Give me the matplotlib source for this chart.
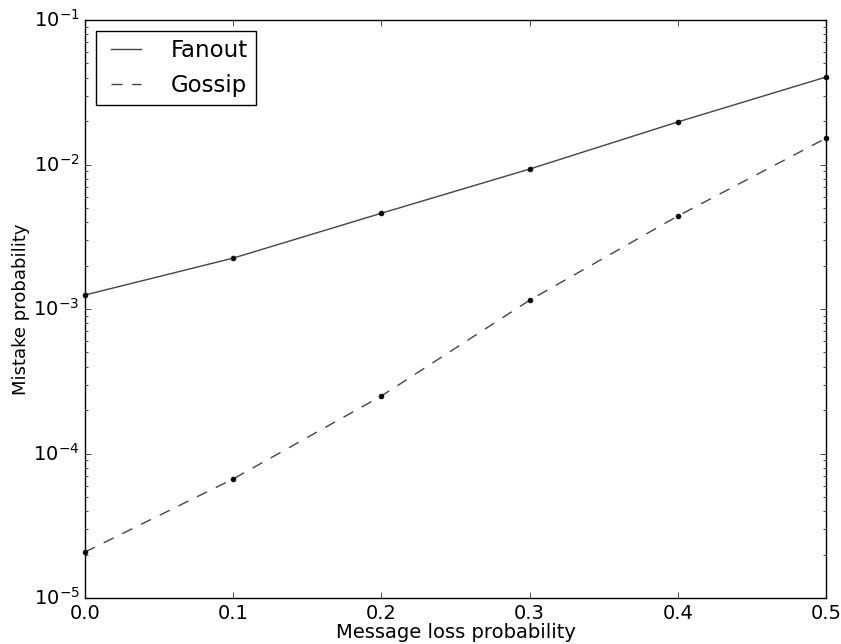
import matplotlib
matplotlib.use("Agg")
import matplotlib.pyplot as plt

plt.style.use('classic')

loss = [0.0, 0.1, 0.2, 0.3, 0.4, 0.5]
fanout = [1.25e-3, 2.25e-3, 4.6e-3, 9.3e-3, 1.97e-2, 4.03e-2]
gossip = [2.08e-5, 6.67e-5, 2.5e-4, 1.15e-3, 4.4e-3, 1.52e-2]

fig = plt.figure(figsize=(8.41, 6.44), dpi=100)
fig.patch.set_facecolor('white')
ax = fig.add_axes([85/841, 1 - 598/644, (826-85)/841, (598-20)/644])

ax.plot(loss, fanout, '-', color='#444444', lw=1.0, label='Fanout')
ax.plot(loss, gossip, '--', color='#444444', lw=1.0, dashes=(8, 7), label='Gossip')
ax.plot(loss, fanout, 'o', color='black', ms=3.5, mec='black', clip_on=False)
ax.plot(loss, gossip, 'o', color='black', ms=3.5, mec='black', clip_on=False)

ax.set_yscale('log')
ax.set_xlim(0, 0.5)
ax.set_ylim(1e-5, 1e-1)
ax.set_xticks(loss)
ax.set_xticklabels(['0.0', '0.1', '0.2', '0.3', '0.4', '0.5'])
ax.tick_params(labelsize=14)
ax.set_xlabel('Message loss probability', fontsize=14, labelpad=0)
ax.set_ylabel('Mistake probability', fontsize=13, labelpad=2)
ax.legend(loc='upper left', fontsize=16.5, handlelength=1.9, handletextpad=1.0,
          borderaxespad=0.5, borderpad=0.35, frameon=True, fancybox=False)

fig.savefig('out.png', dpi=100, facecolor='white')
